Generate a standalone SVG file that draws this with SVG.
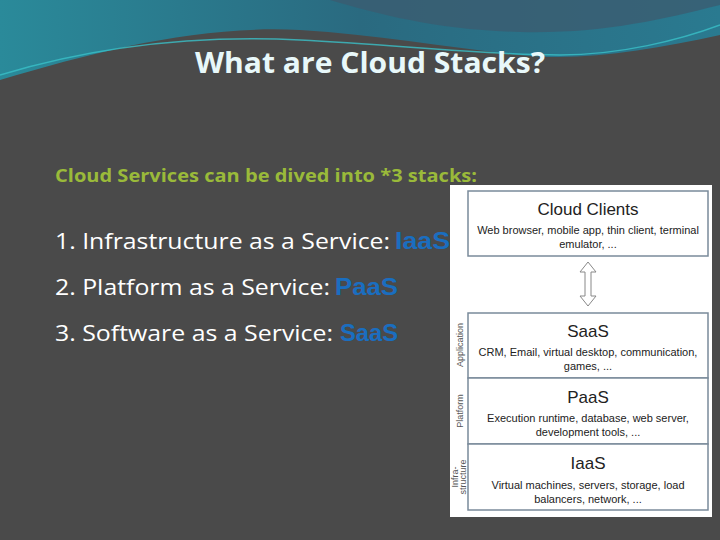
<svg xmlns="http://www.w3.org/2000/svg" width="720" height="540" viewBox="0 0 720 540">
<defs>
<linearGradient id="tg" x1="0" y1="0" x2="1" y2="0"><stop offset="0" stop-color="#2a8a9a"/><stop offset="0.5" stop-color="#2a6a80"/><stop offset="1" stop-color="#2a7a90"/></linearGradient>
<style>
.t{font-family:"Open Sans","Liberation Sans",sans-serif}
.box{fill:#fff;stroke:#7a8a9a;stroke-width:1.5}
.h{font-family:"Liberation Sans",sans-serif;font-size:17px;fill:#222;text-anchor:middle}
.s{font-family:"Liberation Sans",sans-serif;font-size:11px;fill:#222;text-anchor:middle}
.side{font-family:"Liberation Sans",sans-serif;font-size:9px;fill:#555;text-anchor:middle}
.li{font-family:"Open Sans","Liberation Sans",sans-serif;font-size:21px;fill:#fff}
.ab{font-family:"Liberation Sans",sans-serif;font-weight:bold;font-size:23px;fill:#1a6ec0}
</style>
</defs>
<rect width="720" height="540" fill="#4a4a4a"/>
<path d="M0 0H720V35C650 50 580 62 520 55C450 48 380 35 300 30C200 25 100 50 0 80Z" fill="url(#tg)"/>
<path d="M330 0C380 15 440 30 520 32C600 34 660 20 720 5V0Z" fill="#3b5d70" opacity="0.8"/>
<path d="M0 75C100 45 200 35 300 40C400 45 480 55 560 55C620 55 680 40 720 25" fill="none" stroke="#3ac0c8" stroke-width="1.5" opacity="0.8"/>
<text x="195" y="73" class="t" font-size="28" font-weight="bold" fill="#e8f8fa" textLength="350" lengthAdjust="spacingAndGlyphs">What are Cloud Stacks?</text>
<text x="55" y="182" class="t" font-size="17" font-weight="bold" fill="#9aba3a" textLength="422" lengthAdjust="spacingAndGlyphs">Cloud Services can be dived into *3 stacks:</text>
<text x="55" y="249" class="li" textLength="335" lengthAdjust="spacingAndGlyphs">1. Infrastructure as a Service:</text>
<text x="395" y="249" class="ab" textLength="55" lengthAdjust="spacingAndGlyphs">IaaS</text>
<text x="55" y="295" class="li" textLength="275" lengthAdjust="spacingAndGlyphs">2. Platform as a Service:</text>
<text x="335" y="295" class="ab" textLength="63" lengthAdjust="spacingAndGlyphs">PaaS</text>
<text x="55" y="341" class="li" textLength="278" lengthAdjust="spacingAndGlyphs">3. Software as a Service:</text>
<text x="340" y="341" class="ab" textLength="58" lengthAdjust="spacingAndGlyphs">SaaS</text>
<rect x="450" y="185" width="262" height="332" fill="#fff"/>
<g id="clients"><rect class="box" x="468" y="191" width="240" height="65"/>
<text class="h" x="588" y="215">Cloud Clients</text>
<text class="s" x="588" y="234">Web browser, mobile app, thin client, terminal</text>
<text class="s" x="588" y="248">emulator, ...</text></g>
<g id="connectors"><path d="M588 262L580 272H585V296H580L588 306L596 296H591V272H596Z" fill="#fff" stroke="#888" stroke-width="1"/></g>
<g id="saas"><rect class="box" x="468" y="313" width="240" height="65"/>
<text class="h" x="588" y="337">SaaS</text>
<text class="s" x="588" y="356">CRM, Email, virtual desktop, communication,</text>
<text class="s" x="588" y="370">games, ...</text>
<text class="side" transform="translate(463,345) rotate(-90)">Application</text></g>
<g id="paas"><rect class="box" x="468" y="378" width="240" height="66"/>
<text class="h" x="588" y="403">PaaS</text>
<text class="s" x="588" y="422">Execution runtime, database, web server,</text>
<text class="s" x="588" y="436">development tools, ...</text>
<text class="side" transform="translate(463,411) rotate(-90)">Platform</text></g>
<g id="iaas"><rect class="box" x="468" y="444" width="240" height="66"/>
<text class="h" x="588" y="469">IaaS</text>
<text class="s" x="588" y="489">Virtual machines, servers, storage, load</text>
<text class="s" x="588" y="503">balancers, network, ...</text>
<text class="side" transform="translate(458,477) rotate(-90)">Infra-</text>
<text class="side" transform="translate(466,477) rotate(-90)">structure</text></g>
</svg>
